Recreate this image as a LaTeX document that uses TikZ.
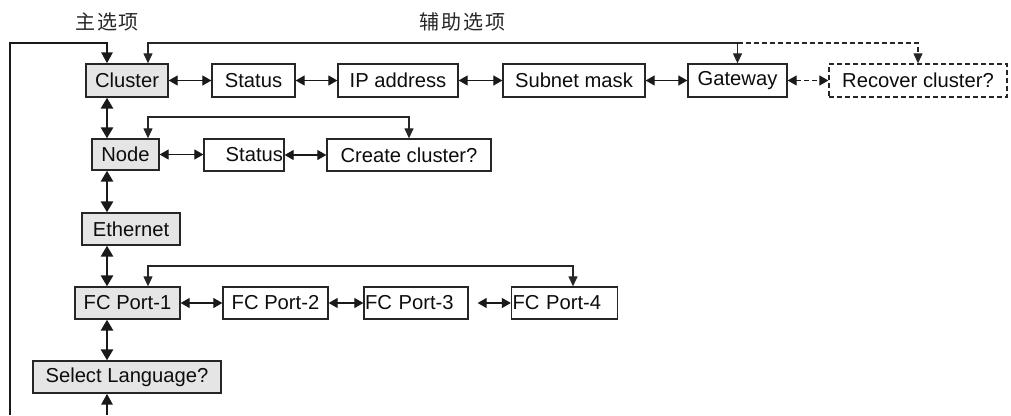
\documentclass[tikz,border=0pt]{standalone}
\usepackage{fontspec}
\setmainfont{Liberation Sans}
\newfontfamily\cjk{Noto Sans CJK SC}
\usetikzlibrary{arrows.meta}
\begin{document}
\begin{tikzpicture}[x=1pt,y=-1pt,
  bx/.style={draw=black!85, line width=1.3pt, inner sep=0pt, minimum height=32pt,
    font=\fontsize{20.2}{22}\selectfont, text=black!95},
  mainbx/.style={bx, fill=black!10},
  dsh/.style={dash pattern=on 5pt off 3pt},
  lnk/.style={line width=1.2pt, black!90, {Triangle[width=10pt,length=9pt]}-{Triangle[width=10pt,length=9pt]}},
  thk/.style={line width=2.8pt, black!90, {Triangle[width=12pt,length=11pt]}-{Triangle[width=12pt,length=11pt]}},
  thkone/.style={line width=2.8pt, black!90, -{Triangle[width=11pt,length=11pt]}},
  fbend/.style={line width=1.2pt, black!85, -{Triangle[width=9pt,length=10pt]}},
  fbboth/.style={line width=1.2pt, black!85, {Triangle[width=9pt,length=10pt]}-{Triangle[width=9pt,length=10pt]}},
  ttl/.style={font=\cjk\fontsize{20}{20}\selectfont, text=black!85, inner sep=0pt}]
\useasboundingbox (0,0) rectangle (1011,415);

% titles
\node[ttl] (t1) at (107,21.5) {主\hspace{1.5pt}选\hspace{1.5pt}项};
\node[ttl] (t2) at (462,21.5) {辅\hspace{2pt}助\hspace{2pt}选\hspace{2pt}项};

% row 1
\node[mainbx, minimum width=82pt, minimum height=33pt] (cluster) at (127,80.5) {Cluster};
\node[bx, minimum width=83pt, minimum height=33pt] (st1) at (253.5,80.5) {Status};
\node[bx, minimum width=120pt, minimum height=33pt] (ip) at (398,80.5) {IP address};
\node[bx, minimum width=142pt, minimum height=33pt] (mask) at (574,80.5) {Subnet mask};
\node[bx, minimum width=99pt, minimum height=33pt] (gw) at (737.5,80.5) {Gateway};
\node[bx, dsh, minimum width=178pt, minimum height=33pt] (rec) at (918,80.5) {Recover cluster?};

% row 2
\node[mainbx, minimum width=67pt, minimum height=31pt] (node) at (125.5,154.5) {Node};
\node[bx, text width=78pt, inner xsep=1pt, align=right] (st2) at (244,155) {Status};
\node[bx, minimum width=164pt] (create) at (409,155) {Create cluster?};

% row 3
\node[mainbx, minimum width=98pt] (eth) at (131,229) {Ethernet};

% row 4
\node[mainbx, minimum width=105pt] (fc1) at (127.5,303) {FC Port-1};
\node[bx, minimum width=105pt] (fc2) at (275.5,303) {FC Port-2};
\node[bx, text width=102pt, inner xsep=1pt, align=left] (fc3) at (416,303) {FC Port-3};
\node[bx, text width=104pt, inner xsep=1pt, align=left] (fc4) at (564.5,303) {FC Port-4};

% row 5
\node[mainbx, minimum width=188pt] (sel) at (127,377) {Select Language?};

% helper coordinates
\coordinate (vx) at (107,0);
\coordinate (fbx) at (148,0);
\coordinate (topy) at (0,43);
\coordinate (ny) at (0,117);
\coordinate (fy) at (0,266);
\coordinate (f4x) at (573,0);
\coordinate (lx) at (10,415);
\coordinate (bot) at (107,415);

% horizontal links
\draw[lnk] (cluster) -- (st1);
\draw[lnk] (st1) -- (ip);
\draw[lnk] (ip) -- (mask);
\draw[lnk] (mask) -- (gw);
\draw[lnk, dsh] (gw) -- (rec);
\draw[lnk] (node.east) -- (node.east -| st2.west);
\draw[lnk] (st2) -- (create);
\draw[lnk] (fc1) -- (fc2);
\draw[lnk] (fc2) -- (fc3);
\draw[lnk, shorten <=9pt] (fc3) -- (fc4);

% feedback lines
\draw[fbboth] (cluster.north -| fbx) -- (fbx |- topy) -| (gw.north);
\draw[fbend, dsh] (gw.north |- topy) -| (rec.north);
\draw[fbboth] (node.north -| fbx) -- (fbx |- ny) -| (create.north);
\draw[fbboth] (fc1.north -| fbx) -- (fbx |- fy) -| (f4x |- fc4.north);

% main vertical links
\draw[thk] (cluster.south -| vx) -- (node.north -| vx);
\draw[thk] (node.south -| vx) -- (eth.north -| vx);
\draw[thk] (eth.south -| vx) -- (fc1.north -| vx);
\draw[thk] (fc1.south -| vx) -- (sel.north -| vx);
\draw[thkone] (bot) -- (sel.south -| vx);

% loop back
\draw[thkone] (lx) -- (lx |- topy) -| (cluster.north -| vx);
\end{tikzpicture}
\end{document}
